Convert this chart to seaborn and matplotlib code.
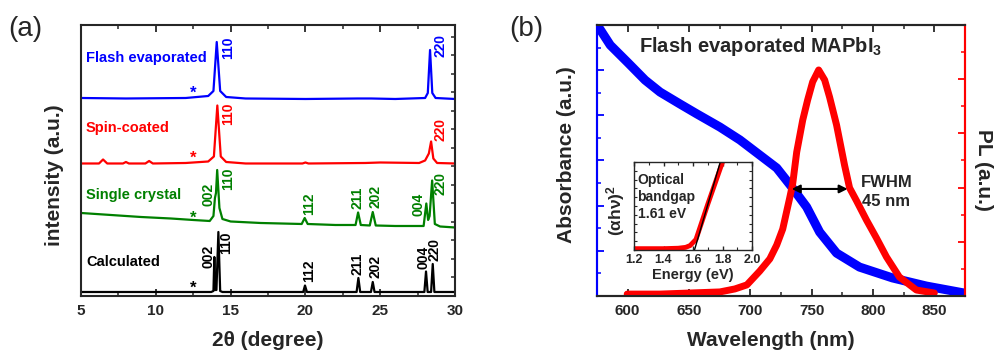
import numpy as np
import matplotlib
matplotlib.use('Agg')
import matplotlib.pyplot as plt
from matplotlib.ticker import MultipleLocator
import seaborn as sns

# ---------------- (a) XRD patterns: 2theta (deg), intensity above baseline (a.u.)
flash_tt = [5, 8, 12, 13.5, 13.85, 14.07, 14.3, 14.7, 16, 20, 23.5, 24.4, 26, 28.0, 28.18, 28.33, 28.48, 28.7, 30]
flash_int = [1, 0.5, 1, 3, 8, 57, 8, 2, 0.5, 0, 0.5, 0.5, 0, 1, 6, 49, 6, 1, 0]

spin_tt = [5, 6.2, 6.47, 6.75, 7.8, 8.0, 8.2, 9.3, 9.55, 9.8, 12, 13.5, 13.88, 14.11, 14.34, 14.7, 16,
           19.8, 20, 20.2, 24, 25, 27.6, 28.0, 28.25, 28.4, 28.55, 28.8, 30]
spin_int = [0, 0, 4, 0, 0, 1.5, 0, 0, 2.5, 0, 0.5, 2, 7, 58, 7, 1.5, 0,
            0, 1, 0, 0.5, 1, 0.5, 3, 10, 22, 5, 0.5, 0]

single_tt = [5, 7, 9, 11, 12.5, 13.6, 13.85, 13.95, 14.02, 14.1, 14.25, 14.45, 15, 17, 19.75, 19.95, 20.15,
             22, 23.35, 23.52, 23.7, 24.3, 24.5, 24.7, 26, 27.9, 28.08, 28.2, 28.3, 28.47, 28.65, 29, 30]
single_int = [15, 13, 11, 9.5, 8, 7, 12, 30, 35, 58, 20, 9, 6.5, 5, 4, 10, 4,
              3, 3, 15.5, 3, 2.5, 16, 2.5, 2, 2, 24.5, 8, 12, 47.5, 4, 1.5, 0.5]

calc_tt = [5, 13.7, 13.85, 13.91, 13.97, 14.05, 14.18, 14.3, 14.45, 19.85, 19.97, 20.1, 23.42, 23.54, 23.66,
           24.38, 24.5, 24.62, 27.95, 28.06, 28.17, 28.4, 28.51, 28.62, 30]
calc_int = [0, 0, 1, 35, 2, 2, 60, 1, 0, 0, 6.5, 0, 0, 14, 0,
            0, 10, 0, 0, 20.5, 0, 0, 28, 0, 0]

sample_names = ['Flash evaporated', 'Spin-coated', 'Single crystal', 'Calculated']
sample_colors = ['#0000ff', '#ff0000', '#008000', '#000000']

flash_hkl = ['110', '220']
spin_hkl = ['110', '220']
single_hkl = ['002', '110', '112', '211', '202', '004', '220']
calc_hkl = ['002', '110', '112', '211', '202', '004', '220']

# ---------------- (b) absorbance and PL vs wavelength (nm)
abs_wl = [575.2, 585.8, 600.4, 614.2, 626.4, 642.7, 656.5, 675.2, 691.5, 707.7, 721.5, 733.7,
          745.9, 756.5, 770.3, 789.0, 815.9, 843.5, 874.4]
absorbance = [1.200, 1.111, 1.032, 0.956, 0.903, 0.850, 0.806, 0.748, 0.691, 0.624, 0.567, 0.483,
              0.394, 0.283, 0.190, 0.128, 0.080, 0.044, 0.013]

pl_wl = [599.6, 626.4, 650.8, 675.2, 687.4, 697.2, 707.7, 715.9, 721.5, 726.4, 732.1, 734.5, 737.8,
         742.7, 746.7, 750.8, 755.7, 760.6, 764.6, 770.3, 776.8, 780.9, 786.6, 794.7, 802.8, 811.0,
         821.5, 835.4, 850.0]
pl = [0.007, 0.007, 0.011, 0.015, 0.026, 0.041, 0.092, 0.137, 0.188, 0.247, 0.362, 0.413, 0.531,
      0.649, 0.723, 0.790, 0.834, 0.797, 0.734, 0.631, 0.483, 0.399, 0.351, 0.280, 0.214, 0.144,
      0.070, 0.022, 0.011]

# inset: Tauc plot
tauc_e = [1.2, 1.4, 1.5, 1.55, 1.58, 1.62, 1.7, 1.8, 1.83]
tauc_y = [0.015, 0.015, 0.02, 0.03, 0.05, 0.12, 0.52, 1.0, 1.1]
fit_e = [1.61, 1.785]
fit_y = [0.0, 1.0]

sns.set_style('ticks')
plt.rcParams['font.family'] = ['Liberation Sans', 'DejaVu Sans']
plt.rcParams['font.weight'] = 'bold'
plt.rcParams['axes.labelweight'] = 'bold'
plt.rcParams['mathtext.fontset'] = 'custom'
plt.rcParams['mathtext.bf'] = 'Liberation Sans:bold'
plt.rcParams['mathtext.rm'] = 'Liberation Sans:bold'
plt.rcParams['mathtext.default'] = 'bf'

fig = plt.figure(figsize=(9.97, 3.53), dpi=100)
ax_a = fig.add_axes([0.0813, 0.1615, 0.3751, 0.7677])
ax_b = fig.add_axes([0.5988, 0.1615, 0.3691, 0.7677])

# ---------------- panel (a)
offsets = [197, 132.5, 68, 4]
traces = [(flash_tt, flash_int), (spin_tt, spin_int), (single_tt, single_int), (calc_tt, calc_int)]
for (tt, inten), off, col in zip(traces, offsets, sample_colors):
    sns.lineplot(x=tt, y=np.array(inten) + off, ax=ax_a, color=col, lw=1.6,
                 estimator=None, sort=False)

name_y = [41, 35.5, 33, 30]
for name, off, col, dy in zip(sample_names, offsets, sample_colors, name_y):
    ax_a.text(5.33, off + dy, name, color=col, fontsize=10.5, ha='left', va='center')
# weak impurity marker
star_y = [6, 5.5, 10, 4]
for off, col, dy in zip(offsets, sample_colors, star_y):
    ax_a.text(12.5, off + dy, '*', color=col, fontsize=12, ha='center', va='center')

hkl_sets = [
    (flash_hkl, [(14.8, 51.5), (29.06, 53)]),
    (spin_hkl, [(14.8, 50), (29.0, 33.5)]),
    (single_hkl, [(13.49, 34), (14.8, 49), (20.24, 24), (23.5, 30.5), (24.65, 31.5), (27.53, 24), (29.06, 44)]),
    (calc_hkl, [(13.49, 35.5), (14.7, 49.5), (20.24, 21), (23.5, 28), (24.7, 25.5), (27.86, 34.5), (28.66, 42)]),
]
for (labels, pos), off, col in zip(hkl_sets, offsets, sample_colors):
    for lab, (px, py) in zip(labels, pos):
        ax_a.text(px, off + py, lab, color=col, fontsize=10, rotation=90, ha='center', va='center')

ax_a.set_xlim(5, 30)
ax_a.set_ylim(0, 271)
ax_a.xaxis.set_major_locator(MultipleLocator(5))
ax_a.xaxis.set_minor_locator(MultipleLocator(2.5))
ax_a.yaxis.set_major_locator(MultipleLocator(18.5))
ax_a.tick_params(axis='x', which='both', direction='in', top=True, labelsize=11, pad=6)
ax_a.tick_params(axis='x', which='major', length=5, width=1.3)
ax_a.tick_params(axis='x', which='minor', length=3, width=1.1)
ax_a.tick_params(axis='y', which='both', direction='in', left=False, right=True, labelleft=False,
                 length=3, width=1.1)
ax_a.set_xlabel('2θ (degree)', fontsize=15, va='center')
ax_a.xaxis.set_label_coords(0.5, -0.165)
ax_a.set_ylabel('intensity (a.u.)', fontsize=15, va='center')
ax_a.yaxis.set_label_coords(-0.07, 0.446)
for s in ax_a.spines.values():
    s.set_linewidth(1.5)

# ---------------- panel (b)
sns.lineplot(x=abs_wl, y=absorbance, ax=ax_b, color='#0000ff', lw=6.5, estimator=None, sort=False)
ax_b.set_xlim(575, 875)
ax_b.set_ylim(0, 1.2)
ax_b.xaxis.set_major_locator(MultipleLocator(50))
ax_b.xaxis.set_minor_locator(MultipleLocator(25))
ax_b.yaxis.set_major_locator(MultipleLocator(0.2))
ax_b.yaxis.set_minor_locator(MultipleLocator(0.1))
ax_b.tick_params(axis='x', which='both', direction='in', top=True, labelsize=11, pad=6)
ax_b.tick_params(axis='x', which='major', length=5, width=1.3)
ax_b.tick_params(axis='x', which='minor', length=3, width=1.1)
ax_b.tick_params(axis='y', which='both', direction='in', colors='#0000ff', labelleft=False)
ax_b.tick_params(axis='y', which='major', length=5, width=1.3)
ax_b.tick_params(axis='y', which='minor', length=3, width=1.1)
ax_b.set_xlabel('Wavelength (nm)', fontsize=15, va='center')
ax_b.xaxis.set_label_coords(0.473, -0.165)
ax_b.set_ylabel('Absorbance (a.u.)', fontsize=15, va='center')
ax_b.yaxis.set_label_coords(-0.084, 0.52)

ax_pl = ax_b.twinx()
sns.lineplot(x=pl_wl, y=pl, ax=ax_pl, color='#ff0000', lw=5, estimator=None, sort=False)
ax_pl.set_ylim(0, 1.0)
ax_pl.yaxis.set_major_locator(MultipleLocator(0.2))
ax_pl.yaxis.set_minor_locator(MultipleLocator(0.1))
ax_pl.tick_params(axis='y', which='both', direction='in', colors='#ff0000', labelright=False)
ax_pl.tick_params(axis='y', which='major', length=5, width=1.3)
ax_pl.tick_params(axis='y', which='minor', length=3, width=1.1)
ax_pl.set_ylabel('PL (a.u.)', fontsize=15, rotation=270, va='center')
ax_pl.yaxis.set_label_coords(1.05, 0.465)
for a in (ax_b, ax_pl):
    for s in a.spines.values():
        s.set_linewidth(1.5)
    a.spines['left'].set_color('#0000ff')
    a.spines['right'].set_color('#ff0000')

ax_pl.annotate('', xy=(733.8, 0.395), xytext=(779.3, 0.395),
               arrowprops=dict(arrowstyle='<|-|>', color='k', lw=1.5, mutation_scale=12,
                               shrinkA=0, shrinkB=0))
ax_pl.text(811, 0.384, 'FWHM\n45 nm', fontsize=12, ha='center', va='center', linespacing=1.3)
ax_b.text(0.446, 0.919, 'Flash evaporated MAPbI$_3$', transform=ax_b.transAxes,
          fontsize=14.5, ha='center', va='center')

# inset
ax_in = fig.add_axes([0.6359, 0.2918, 0.1184, 0.2493])
sns.lineplot(x=tauc_e, y=tauc_y, ax=ax_in, color='#ff0000', lw=3.5, estimator=None, sort=False)
sns.lineplot(x=fit_e, y=fit_y, ax=ax_in, color='k', lw=1, estimator=None, sort=False)
ax_in.set_xlim(1.2, 2.0)
ax_in.set_ylim(0, 1.0)
ax_in.xaxis.set_major_locator(MultipleLocator(0.2))
ax_in.xaxis.set_minor_locator(MultipleLocator(0.1))
ax_in.yaxis.set_major_locator(MultipleLocator(0.1))
ax_in.tick_params(axis='x', which='both', direction='in', top=True, labelsize=9, pad=3)
ax_in.tick_params(axis='x', which='major', length=3, width=1)
ax_in.tick_params(axis='x', which='minor', length=2, width=0.8)
ax_in.tick_params(axis='y', which='both', direction='in', left=True, right=True,
                  labelleft=False, length=2.5, width=0.8)
ax_in.set_xlabel('Energy (eV)', fontsize=10.5, va='center')
ax_in.xaxis.set_label_coords(0.5, -0.28)
ax_in.set_ylabel('(αhν)$^2$', fontsize=12.5, va='center')
ax_in.yaxis.set_label_coords(-0.16, 0.45)
ax_in.text(0.03, 0.88, 'Optical\nbandgap\n1.61 eV', transform=ax_in.transAxes,
           fontsize=10, ha='left', va='top', linespacing=1.3)
for s in ax_in.spines.values():
    s.set_linewidth(1)

fig.text(0.025, 0.918, '(a)', fontsize=20, fontweight='normal', ha='center', va='center')
fig.text(0.528, 0.918, '(b)', fontsize=20, fontweight='normal', ha='center', va='center')

fig.savefig('out.png', dpi=100)
